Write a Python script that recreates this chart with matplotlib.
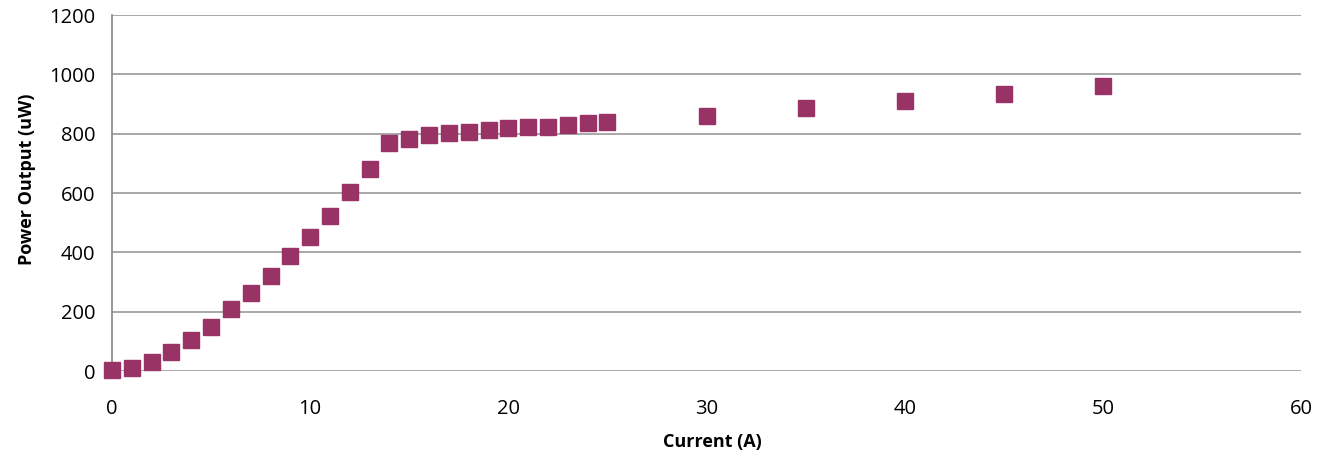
import matplotlib.pyplot as plt

# current (A) vs power output (uW)
current = [0, 1, 2, 3, 4, 5, 6, 7, 8, 9, 10, 11, 12, 13, 14, 15, 16, 17, 18,
           19, 20, 21, 22, 23, 24, 25, 30, 35, 40, 45, 50]
power = [3, 9, 31, 65, 105, 150, 208, 264, 320, 388, 451, 524, 604, 682, 768,
         783, 796, 801, 807, 813, 818, 824, 824, 830, 835, 841, 859, 887, 909,
         933, 961]

x_ticks = [0, 10, 20, 30, 40, 50, 60]
y_ticks = [0, 200, 400, 600, 800, 1000, 1200]

plt.rcParams['font.family'] = ['Open Sans', 'DejaVu Sans']

fig, ax = plt.subplots(figsize=(13.29, 4.57), dpi=100)
fig.subplots_adjust(left=0.0843, right=0.979, top=0.967, bottom=0.188)

ax.plot(current, power, linestyle='none', marker='s', markersize=11,
        color='#993366', markeredgecolor='#993366', clip_on=False, zorder=3)

ax.set_xlim(0, 60)
ax.set_ylim(0, 1200)
ax.set_xticks(x_ticks)
ax.set_yticks(y_ticks)
ax.tick_params(axis='both', length=0, labelsize=14.5)
ax.tick_params(axis='y', pad=12)
ax.tick_params(axis='x', pad=20)

# 网格线
ax.grid(axis='y', color='#9a9a9a', linewidth=1.2)
ax.set_axisbelow(True)
for s in ['top', 'right', 'bottom']:
    ax.spines[s].set_visible(False)
ax.spines['left'].set_color('#888888')
ax.spines['left'].set_linewidth(1.2)

ax.set_xlabel('Current (A)', fontsize=13, fontweight='bold')
ax.set_ylabel('Power Output (uW)', fontsize=13, fontweight='bold')
ax.xaxis.set_label_coords(0.5046, -0.175)
ax.yaxis.set_label_coords(-0.064, 0.539)

fig.savefig('out.png', dpi=100)
